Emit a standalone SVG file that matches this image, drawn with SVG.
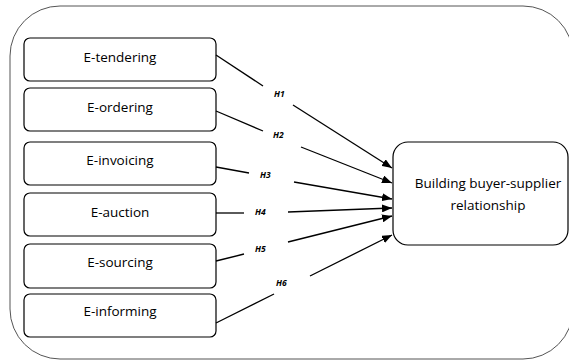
<svg xmlns="http://www.w3.org/2000/svg" width="569" height="361" viewBox="0 0 569 361">
  <defs>
    <marker id="arrow" viewBox="0 0 10 8" refX="10" refY="4" markerWidth="10" markerHeight="8" markerUnits="userSpaceOnUse" orient="auto">
      <path d="M0,0 L10,4 L0,8 Z" fill="#000"/>
    </marker>
  </defs>
  <style>
    .frame { fill: #fff; stroke: #555; stroke-width: 1; }
    .box { fill: #fff; stroke: #000; stroke-width: 1.2; }
    .lbl { font-family: "Open Sans", "Liberation Sans", sans-serif; font-size: 13.5px; fill: #000; text-anchor: middle; }
    .h { font-family: "Open Sans", "Liberation Sans", sans-serif; font-size: 8.5px; font-weight: bold; font-style: italic; fill: #000; }
    .seg { fill: none; stroke: #000; stroke-width: 1.3; }
  </style>

  <rect width="569" height="361" fill="#fff"/>
  <!-- surrounding frame -->
  <rect class="frame" x="10" y="6" width="563" height="353" rx="50" ry="50"/>

  <g id="e-tendering">
    <rect class="box" x="24" y="38" width="192" height="43" rx="6"/>
    <text class="lbl" x="120" y="62">E-tendering</text>
  </g>
  <g id="e-ordering">
    <rect class="box" x="24" y="88" width="192" height="43" rx="6"/>
    <text class="lbl" x="120" y="112">E-ordering</text>
  </g>
  <g id="e-invoicing">
    <rect class="box" x="24" y="142" width="192" height="43" rx="6"/>
    <text class="lbl" x="120" y="165">E-invoicing</text>
  </g>
  <g id="e-auction">
    <rect class="box" x="24" y="193" width="192" height="43" rx="6"/>
    <text class="lbl" x="120" y="217">E-auction</text>
  </g>
  <g id="e-sourcing">
    <rect class="box" x="24" y="244" width="192" height="44" rx="6"/>
    <text class="lbl" x="120" y="267">E-sourcing</text>
  </g>
  <g id="e-informing">
    <rect class="box" x="24" y="294" width="192" height="43" rx="6"/>
    <text class="lbl" x="120" y="316">E-informing</text>
  </g>

  <g id="relationship">
    <rect class="box" x="393" y="142" width="175" height="103" rx="15"/>
    <text class="lbl" x="488" y="188">Building buyer-supplier</text>
    <text class="lbl" x="488" y="210">relationship</text>
  </g>

  <g id="connectors">
    <!-- H1 -->
    <line class="seg" x1="216" y1="55" x2="263" y2="86"/>
    <line class="seg" x1="293" y1="105" x2="392" y2="168" marker-end="url(#arrow)"/>
    <text class="h" x="274" y="97">H1</text>
    <!-- H2 -->
    <line class="seg" x1="216" y1="111" x2="263" y2="131"/>
    <line class="seg" x1="301" y1="147" x2="392" y2="183" marker-end="url(#arrow)"/>
    <text class="h" x="273" y="138">H2</text>
    <!-- H3 -->
    <line class="seg" x1="216" y1="167" x2="249" y2="173"/>
    <line class="seg" x1="294" y1="182" x2="392" y2="199" marker-end="url(#arrow)"/>
    <text class="h" x="260" y="178">H3</text>
    <!-- H4 -->
    <line class="seg" x1="216" y1="213" x2="244" y2="213"/>
    <line class="seg" x1="288" y1="212" x2="392" y2="208" marker-end="url(#arrow)"/>
    <text class="h" x="255" y="215">H4</text>
    <!-- H5 -->
    <line class="seg" x1="216" y1="261" x2="244" y2="254"/>
    <line class="seg" x1="288" y1="242" x2="392" y2="216" marker-end="url(#arrow)"/>
    <text class="h" x="255" y="252">H5</text>
    <!-- H6 -->
    <line class="seg" x1="216" y1="323" x2="274" y2="294"/>
    <line class="seg" x1="310" y1="276" x2="392" y2="235" marker-end="url(#arrow)"/>
    <text class="h" x="276" y="286">H6</text>
  </g>
</svg>
